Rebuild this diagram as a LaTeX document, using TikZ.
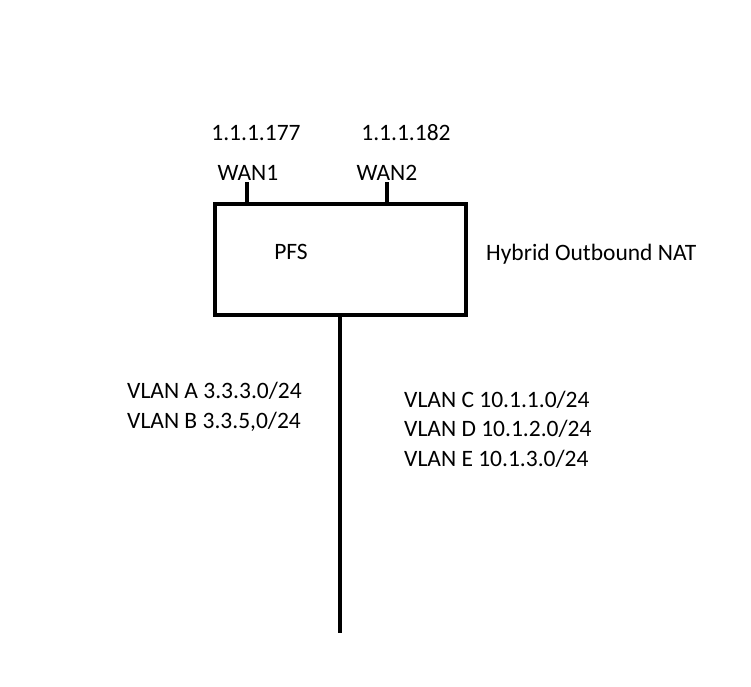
\documentclass[tikz,border=0pt]{standalone}
\usepackage{fontspec}
\setmainfont{Carlito}
\usepackage{tikz}
\usetikzlibrary{positioning,calc}

\begin{document}
\begin{tikzpicture}[
    x=1pt, y=-1pt,
    lbl/.style={inner sep=0pt, font=\fontsize{23.5}{28}\selectfont},
    fwbox/.style={rectangle, draw=black, line width=4pt, minimum width=251pt, minimum height=111pt, inner sep=0pt},
    link/.style={line width=4pt, draw=black}
]
    \useasboundingbox (0,0) rectangle (751,686);

    \node [fwbox] (pfs) at (340.5,259) {};
    \node [lbl] (pfsname) at (291,252) {PFS};
    \node [lbl, anchor=west] (nat) at (486,254) {Hybrid Outbound NAT};

    % wan side
    \coordinate (w1) at (246.5,182);
    \coordinate (w2) at (386.5,182);
    \node [lbl] (wan1) at (248,173) {WAN1};
    \node [lbl] (wan2) at (387,173) {WAN2};
    \node [lbl] (ip1) at (256,133) {1.1.1.177};
    \node [lbl] (ip2) at (406,133) {1.1.1.182};
    \draw [link] (w1) -- (w1 |- pfs.north);
    \draw [link] (w2) -- (w2 |- pfs.north);

    % lan side
    \coordinate (lan) at (339.5,633);
    \draw [link] (pfs.south -| lan) -- (lan);
    \node [lbl, anchor=west] (vla) at (127,391) {VLAN A 3.3.3.0/24};
    \node [lbl, anchor=west] (vlb) at (127,422) {VLAN B 3.3.5,0/24};
    \node [lbl, anchor=west] (vlc) at (404,400) {VLAN C 10.1.1.0/24};
    \node [lbl, anchor=west] (vld) at (404,429) {VLAN D 10.1.2.0/24};
    \node [lbl, anchor=west] (vle) at (404,459) {VLAN E 10.1.3.0/24};
\end{tikzpicture}
\end{document}
